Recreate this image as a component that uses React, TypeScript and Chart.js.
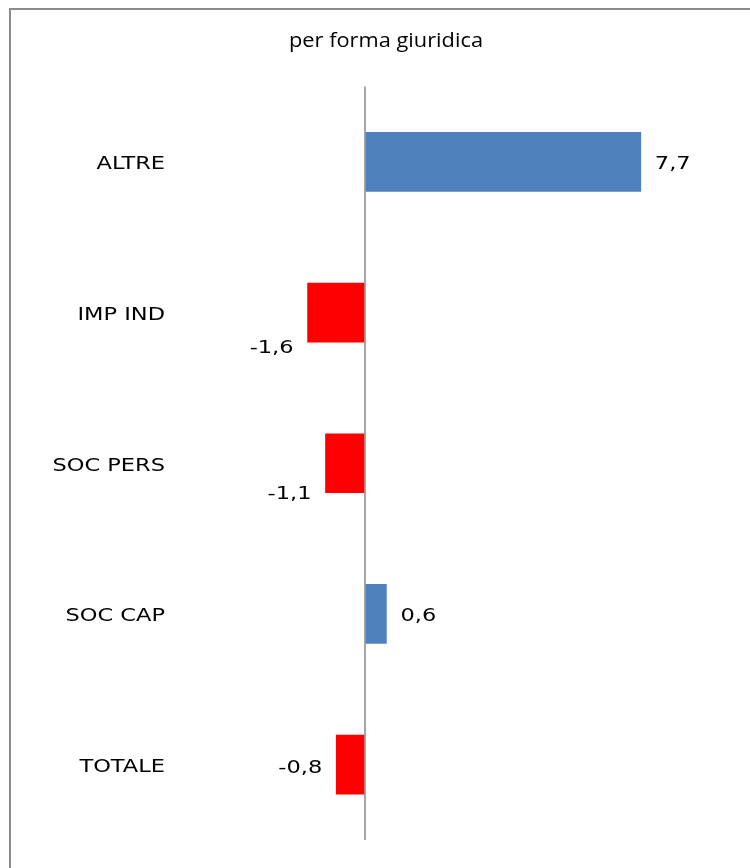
import React, { useEffect, useRef } from "react";
import { Chart, registerables } from "chart.js";

Chart.register(...registerables);

const categories = ["ALTRE", "IMP IND", "SOC PERS", "SOC CAP", "TOTALE"];
const values = [7.7, -1.6, -1.1, 0.6, -0.8];
const titleText = "per forma giuridica";
// extra vertical offset of each value label relative to its bar (style)
const labelYOffsets = [0, 33, 28, 0, 1];

const POS_COLOR = "#4F81BD";
const NEG_COLOR = "#FF0000";
const STRETCH = 1.25;

const fmt = (v: number) => v.toFixed(1).replace(".", ",");

function drawStretched(
  ctx: CanvasRenderingContext2D,
  text: string,
  x: number,
  y: number,
  align: CanvasTextAlign,
  font: string,
  color: string,
  stretch: number
) {
  ctx.save();
  ctx.translate(x, y);
  ctx.scale(stretch, 1);
  ctx.font = font;
  ctx.fillStyle = color;
  ctx.textAlign = align;
  ctx.textBaseline = "alphabetic";
  ctx.fillText(text, 0, 0);
  ctx.restore();
}

const framePlugin = {
  id: "framePlugin",
  beforeDraw(chart: any) {
    const ctx = chart.ctx as CanvasRenderingContext2D;
    ctx.save();
    ctx.strokeStyle = "#8C8C8C";
    ctx.lineWidth = 2;
    ctx.beginPath();
    ctx.moveTo(10, 868);
    ctx.lineTo(10, 9);
    ctx.lineTo(750, 9);
    ctx.stroke();
    ctx.restore();
  },
};

const textPlugin = {
  id: "textPlugin",
  afterDatasetsDraw(chart: any) {
    const ctx = chart.ctx as CanvasRenderingContext2D;
    const yScale = chart.scales.y;
    const labelFont = "18px 'DejaVu Sans'";
    categories.forEach((c, i) => {
      const y = yScale.getPixelForValue(i);
      drawStretched(ctx, c, 165, y + 7.5, "right", labelFont, "#000", STRETCH);
    });
    const meta = chart.getDatasetMeta(0);
    meta.data.forEach((bar: any, i: number) => {
      const v = values[i];
      const y = bar.y + 7.5 + labelYOffsets[i];
      if (v >= 0) {
        drawStretched(ctx, fmt(v), bar.x + 14, y, "left", labelFont, "#000", STRETCH);
      } else {
        drawStretched(ctx, fmt(v), bar.x - 14, y, "right", labelFont, "#000", STRETCH);
      }
    });
    drawStretched(ctx, titleText, 386, 46.5, "center", "20px 'Open Sans'", "#000", 1.09);
  },
};

export default function App() {
  const ref = useRef<HTMLCanvasElement | null>(null);
  useEffect(() => {
    if (!ref.current) return;
    const chart = new Chart(ref.current, {
      type: "bar",
      data: {
        labels: categories,
        datasets: [
          {
            data: values,
            backgroundColor: values.map((v) => (v >= 0 ? POS_COLOR : NEG_COLOR)),
            barThickness: 59,
          },
        ],
      },
      options: {
        indexAxis: "y",
        animation: false,
        responsive: false,
        maintainAspectRatio: false,
        layout: { padding: { left: 185.75, right: 26.75, top: 86.5, bottom: 28 } },
        plugins: { legend: { display: false }, title: { display: false }, tooltip: { enabled: false } },
        scales: {
          x: {
            min: -5,
            max: 10,
            ticks: { display: false, stepSize: 5 },
            border: { display: false },
            grid: {
              drawTicks: false,
              lineWidth: 2,
              color: (c: any) => (c.tick && c.tick.value === 0 ? "#A6A6A6" : "rgba(0,0,0,0)"),
            },
          },
          y: { display: false },
        },
      },
      plugins: [framePlugin, textPlugin],
    });
    return () => chart.destroy();
  }, []);
  return (
    <div style={{ width: 742, height: 860 }}>
      <canvas
        ref={ref}
        width={750}
        height={868}
        style={{ position: "fixed", left: 0, top: 0, width: 750, height: 868 }}
      />
    </div>
  );
}
